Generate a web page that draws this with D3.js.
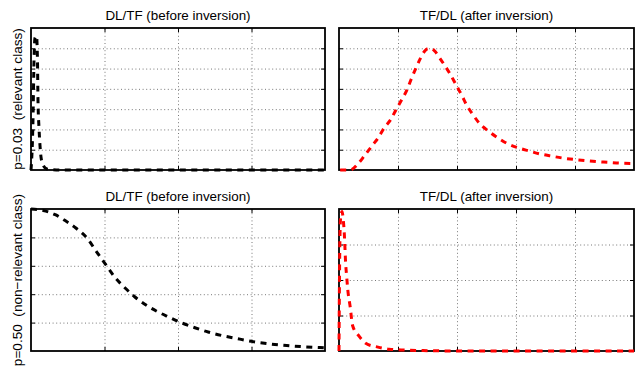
<!DOCTYPE html>
<html>
<head>
<meta charset="utf-8">
<script src="https://cdn.jsdelivr.net/npm/d3@7"></script>
<style>
  body { margin: 0; background: #fff; }
  svg { display: block; font-family: "Liberation Sans", Arial, sans-serif; }
</style>
</head>
<body>
<svg id="chart" width="636" height="366"></svg>
<script>
/////////////////////////////////////////////////
// data (arbitrary units, no tick labels shown)
var panelTitles = ["DL/TF (before inversion)", "TF/DL (after inversion)",
                   "DL/TF (before inversion)", "TF/DL (after inversion)"];
var rowLabels = ["p=0.03  (relevant class)", "p=0.50  (non\u2212relevant class)"];

var leftXTicks = [1, 2, 3];
var rightXTicks = [1, 2, 3, 4];
var topYTicks = [1, 2, 3, 4, 5, 6];
var bottomLeftYTicks = [1, 2, 3, 4];
var bottomRightYTicks = [1, 2, 3];

// relevant class, DL/TF
var relBefore = [[0,0],[0.027,2.46],[0.041,5.42],[0.054,6.5],[0.075,6.6],[0.088,5.42],
  [0.095,3.45],[0.109,2.07],[0.122,1.23],[0.136,0.64],[0.163,0.25],[0.218,0.05],
  [0.39,0],[4,0]];
// relevant class, TF/DL
var relAfter = [[0.02,0],[0.19,0],[0.33,0.33],[0.44,0.74],[0.57,1.23],[0.67,1.61],
  [0.76,2.05],[0.88,2.5],[0.97,2.99],[1.06,3.45],[1.15,3.94],[1.22,4.45],[1.30,5.0],
  [1.38,5.5],[1.45,5.85],[1.51,5.98],[1.57,5.98],[1.63,5.84],[1.70,5.55],[1.80,5.12],
  [1.88,4.75],[1.98,4.22],[2.08,3.69],[2.16,3.22],[2.27,2.73],[2.38,2.3],[2.53,1.92],
  [2.69,1.59],[2.85,1.31],[3.03,1.10],[3.22,0.94],[3.41,0.79],[3.59,0.69],[3.79,0.59],
  [3.98,0.52],[4.18,0.46],[4.38,0.41],[4.56,0.38],[4.76,0.34],[5,0.32]];
// non-relevant class, DL/TF
var nonBefore = [[0,5.0],[0.167,4.95],[0.33,4.8],[0.46,4.6],[0.61,4.33],[0.77,3.95],
  [0.89,3.5],[1.02,3.03],[1.14,2.6],[1.28,2.22],[1.41,1.91],[1.57,1.61],[1.71,1.4],
  [1.88,1.19],[2.05,0.99],[2.23,0.82],[2.41,0.67],[2.59,0.55],[2.80,0.44],[3.02,0.33],
  [3.25,0.25],[3.48,0.19],[3.70,0.15],[3.93,0.12],[4,0.11]];
// non-relevant class, TF/DL
var nonAfter = [[0,0],[0.008,2.0],[0.025,3.7],[0.05,3.93],[0.075,3.65],[0.09,3.3],
  [0.10,2.95],[0.11,2.55],[0.13,2.1],[0.15,1.71],[0.19,1.24],[0.23,0.72],[0.34,0.42],
  [0.46,0.21],[0.66,0.11],[0.85,0.05],[1.05,0.03],[1.5,0.01],[2,0],[5,0]];

/////////////////////////////////////////////////
var svg = d3.select("#chart");

var panels = [
  { x: 31,  y: 28,  w: 294, h: 142, xMax: 4, yMax: 7, xt: leftXTicks,  yt: topYTicks,
    data: relBefore, color: "#000" },
  { x: 339, y: 28,  w: 295, h: 142, xMax: 5, yMax: 7, xt: rightXTicks, yt: topYTicks,
    data: relAfter,  color: "#f00" },
  { x: 31,  y: 209, w: 294, h: 142, xMax: 4, yMax: 5, xt: leftXTicks,  yt: bottomLeftYTicks,
    data: nonBefore, color: "#000" },
  { x: 339, y: 209, w: 295, h: 142, xMax: 5, yMax: 4, xt: rightXTicks, yt: bottomRightYTicks,
    data: nonAfter,  color: "#f00" }
];

panels.forEach(function(p, i) {
  var g = svg.append("g")
    .attr("transform", "translate(" + p.x + "," + p.y + ")");
  var xs = d3.scaleLinear().domain([0, p.xMax]).range([0, p.w]);
  var ys = d3.scaleLinear().domain([0, p.yMax]).range([p.h, 0]);

  // dotted grid
  g.append("g")
    .attr("class", "grid")
    .attr("transform", "translate(0," + p.h + ")")
    .call(d3.axisBottom(xs).tickValues(p.xt).tickSize(-p.h).tickFormat(""));
  g.append("g")
    .attr("class", "grid")
    .call(d3.axisLeft(ys).tickValues(p.yt).tickSize(-p.w).tickFormat(""));
  g.selectAll(".grid line")
    .attr("stroke", "#555")
    .attr("stroke-width", 0.8)
    .attr("stroke-dasharray", "1,2.6");
  g.selectAll(".grid .domain").remove();

  // inward ticks on all four sides
  var tl = 4;
  g.append("g").attr("class", "tk")
    .attr("transform", "translate(0," + p.h + ")")
    .call(d3.axisBottom(xs).tickValues(p.xt).tickSize(-tl).tickFormat(""));
  g.append("g").attr("class", "tk")
    .call(d3.axisTop(xs).tickValues(p.xt).tickSize(-tl).tickFormat(""));
  g.append("g").attr("class", "tk")
    .call(d3.axisLeft(ys).tickValues(p.yt).tickSize(-tl).tickFormat(""));
  g.append("g").attr("class", "tk")
    .attr("transform", "translate(" + p.w + ",0)")
    .call(d3.axisRight(ys).tickValues(p.yt).tickSize(-tl).tickFormat(""));
  g.selectAll(".tk line").attr("stroke", "#000").attr("stroke-width", 1);
  g.selectAll(".tk .domain").remove();

  // frame
  g.append("rect")
    .attr("width", p.w)
    .attr("height", p.h)
    .attr("fill", "none")
    .attr("stroke", "#000")
    .attr("stroke-width", 1.8);

  // curve
  var line = d3.line()
    .x(function(d) { return xs(d[0]); })
    .y(function(d) { return ys(d[1]); })
    .curve(d3.curveMonotoneX);
  g.append("path")
    .datum(p.data)
    .attr("d", line)
    .attr("fill", "none")
    .attr("stroke", p.color)
    .attr("stroke-width", 3)
    .attr("stroke-dasharray", "6,5.5");

  // title
  svg.append("text")
    .attr("x", p.x + p.w / 2)
    .attr("y", p.y - 8)
    .attr("text-anchor", "middle")
    .style("font-size", "13.4px")
    .text(panelTitles[i]);
});

// row labels
[0, 1].forEach(function(r) {
  var p = panels[r * 2];
  svg.append("text")
    .attr("transform", "translate(22," + (p.y + p.h / 2) + ") rotate(-90)")
    .attr("text-anchor", "middle")
    .style("font-size", "13.6px")
    .style("white-space", "pre")
    .attr("xml:space", "preserve")
    .text(rowLabels[r]);
});
</script>
</body>
</html>
